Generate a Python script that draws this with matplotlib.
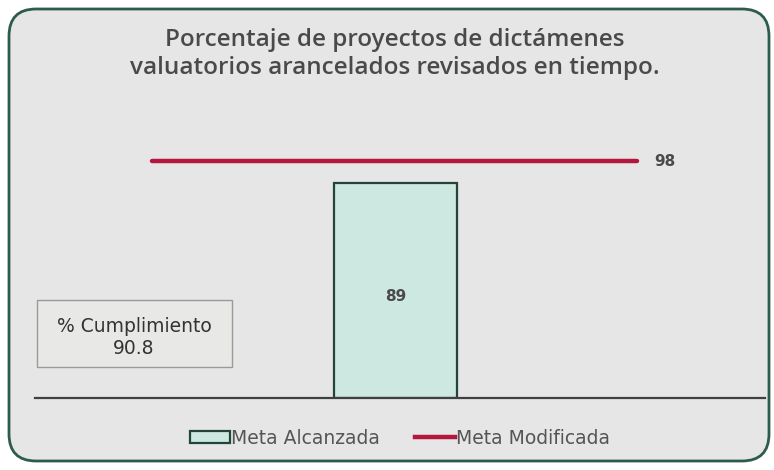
import matplotlib.pyplot as plt
from matplotlib.patches import FancyBboxPatch, Rectangle, Patch
from matplotlib.lines import Line2D

# data
categories = ["2023"]
meta_alcanzada = [89]
meta_modificada = [98]
cumplimiento = 90.8

title = "Porcentaje de proyectos de dictámenes\nvaluatorios arancelados revisados en tiempo."

TEXT = "#4a4a4a"
BAR_FILL = "#cde8e0"
BAR_EDGE = "#22443a"
LINE_COL = "#b3163f"
BG = "#e5e6e5"

W, H = 774, 470
fig = plt.figure(figsize=(W / 100, H / 100), dpi=100, facecolor="white")
plt.rcParams["font.family"] = ["Open Sans", "DejaVu Sans"]

# rounded frame, behind the axes
frame = FancyBboxPatch((9 / W, 9 / H), 760 / W, 452 / H,
                       boxstyle="round,pad=0,rounding_size=0.035",
                       transform=fig.transFigure, facecolor=BG,
                       edgecolor="#2e5c4c", linewidth=2.0, mutation_aspect=W / H,
                       zorder=-1)
fig.patches.append(frame)

fig.text(395 / W, 1 - 54 / H, title, ha="center", va="center", fontsize=17.5,
         fontweight="semibold", color=TEXT, linespacing=1.25)

# axes: baseline at y=398 px, x from 35 to 765 px
ax_bottom = 1 - 398 / H
ax_h = 110 * 2.416 / H
ax = fig.add_axes([35 / W, ax_bottom, 730 / W, ax_h])
ax.set_facecolor("none")
ax.set_xlim(-1.0, 1.026)
ax.set_ylim(0, 110)

x = [0]
bars = ax.bar(x, meta_alcanzada, width=0.34, color=BAR_FILL,
              edgecolor=BAR_EDGE, linewidth=1.6, zorder=2)
ax.hlines(meta_modificada, -0.675, 0.67, color=LINE_COL, linewidth=3.2,
          capstyle="round", zorder=3)

ax.text(0, meta_alcanzada[0] * 0.47, f"{meta_alcanzada[0]}", ha="center",
        va="center", fontsize=11, fontweight="semibold", color=TEXT,
        family="DejaVu Sans")
ax.text(0.72, meta_modificada[0], f"{meta_modificada[0]}", ha="left",
        va="center", fontsize=11, fontweight="semibold", color=TEXT,
        family="DejaVu Sans")

for s in ["top", "left", "right"]:
    ax.spines[s].set_visible(False)
ax.spines["bottom"].set_color("#404040")
ax.spines["bottom"].set_linewidth(1.6)
ax.set_xticks([])
ax.set_yticks([])

# cumplimiento box
box = Rectangle((37 / W, 1 - 367 / H), 195 / W, 67 / H, transform=fig.transFigure,
                facecolor="#e8e8e7", edgecolor="#9a9a9a", linewidth=1.0)
fig.patches.append(box)
fig.text(134 / W, 1 - 338 / H, f"% Cumplimiento\n{cumplimiento}", ha="center",
         va="center", fontsize=13.5, color="#333333", linespacing=1.2,
         family="DejaVu Sans")

handles = [Patch(facecolor=BAR_FILL, edgecolor=BAR_EDGE, linewidth=1.6,
                 label="Meta Alcanzada"),
           Line2D([0], [0], color=LINE_COL, linewidth=3.2, label="Meta Modificada")]
fig.legend(handles=handles, loc="center", bbox_to_anchor=(400 / W, 1 - 438 / H),
           ncol=2, frameon=False, prop={"family": "DejaVu Sans", "size": 13.5},
           labelcolor="#555555", handlelength=2.1, handletextpad=0.05,
           columnspacing=1.9, handleheight=0.6)

fig.savefig("out.png", dpi=100, facecolor="white")
